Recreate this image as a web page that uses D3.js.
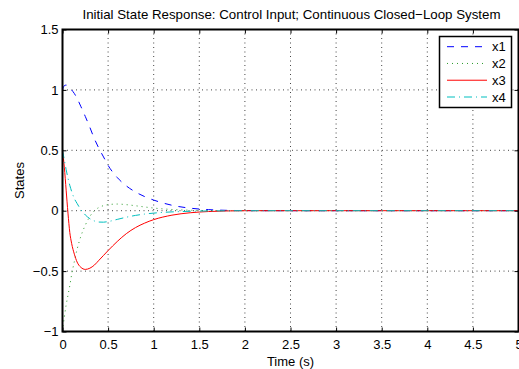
<!DOCTYPE html>
<html>
<head>
<meta charset="utf-8">
<script src="https://cdn.jsdelivr.net/npm/d3@7"></script>
<style>
  body { margin: 0; background: #fff; }
  svg { display: block; font-family: "Liberation Sans", Arial, sans-serif; }
</style>
</head>
<body>
<script>
// Datos (tiempo en segundos, estados)
const tiempo = [0, 0.02, 0.04, 0.06, 0.08, 0.1, 0.13, 0.16, 0.2, 0.25, 0.3, 0.35, 0.4, 0.45, 0.5,
  0.6, 0.7, 0.8, 0.9, 1.0, 1.2, 1.4, 1.6, 1.8, 2.0, 2.5, 3, 3.5, 4, 4.5, 5];
const x1 = [1.0, 1.035, 1.04, 1.03, 1.02, 1.0, 0.97, 0.93, 0.865, 0.78, 0.69, 0.595, 0.515, 0.445, 0.375,
  0.275, 0.205, 0.155, 0.117, 0.088, 0.045, 0.021, 0.009, 0.003, 0.001, 0, 0, 0, 0, 0, 0];
const x2 = [-1.0, -0.88, -0.78, -0.7, -0.62, -0.53, -0.42, -0.32, -0.215, -0.12, -0.048, 0.0, 0.027, 0.042, 0.05,
  0.055, 0.05, 0.041, 0.031, 0.022, 0.01, 0.004, 0.001, 0, 0, 0, 0, 0, 0, 0, 0];
const x3 = [0.5, 0.36, 0.17, -0.02, -0.18, -0.27, -0.36, -0.425, -0.468, -0.486, -0.476, -0.45, -0.41, -0.37, -0.33,
  -0.255, -0.19, -0.14, -0.103, -0.074, -0.037, -0.017, -0.007, -0.002, 0, 0, 0, 0, 0, 0, 0];
const x4 = [0.5, 0.42, 0.34, 0.27, 0.21, 0.16, 0.1, 0.06, 0.01, -0.035, -0.066, -0.085, -0.094, -0.095, -0.09,
  -0.072, -0.054, -0.039, -0.028, -0.02, -0.01, -0.005, -0.002, -0.001, 0, 0, 0, 0, 0, 0, 0];
const nombres = ["x1", "x2", "x3", "x4"];
const ticksX = [0, 0.5, 1, 1.5, 2, 2.5, 3, 3.5, 4, 4.5, 5];
const ticksY = [-1, -0.5, 0, 0.5, 1, 1.5];

const WIDTH = 519;
const HEIGHT = 369;
const MARGIN = { top: 29.5, bottom: 37.5, left: 62.5, right: 0.5 };

const series = [
  { nombre: nombres[0], valores: x1, color: "#0000ff", dash: "7,7" },
  { nombre: nombres[1], valores: x2, color: "#2a9a2a", dash: "1,4" },
  { nombre: nombres[2], valores: x3, color: "#ff0000", dash: null },
  { nombre: nombres[3], valores: x4, color: "#00bfbf", dash: "8,4,1,4" },
];

const svg = d3.select("body").append("svg")
  .attr("width", WIDTH)
  .attr("height", HEIGHT);

const escalaX = d3.scaleLinear().domain([0, 5]).range([MARGIN.left, WIDTH - MARGIN.right]);
const escalaY = d3.scaleLinear().domain([-1, 1.5]).range([HEIGHT - MARGIN.bottom, MARGIN.top]);

// Grilla punteada
const grilla = svg.append("g");
grilla.selectAll(".gx").data(ticksX.slice(1, -1)).join("line")
  .attr("x1", d => escalaX(d)).attr("x2", d => escalaX(d))
  .attr("y1", escalaY(-1)).attr("y2", escalaY(1.5));
grilla.selectAll(".gy").data(ticksY.slice(1, -1)).join("line")
  .attr("y1", d => escalaY(d)).attr("y2", d => escalaY(d))
  .attr("x1", escalaX(0)).attr("x2", escalaX(5));
grilla.selectAll("line")
  .attr("stroke", "#444")
  .attr("stroke-width", 1)
  .attr("stroke-dasharray", "1,3.5");

// Curvas
const linea = d3.line()
  .x((d, i) => escalaX(tiempo[i]))
  .y(d => escalaY(d))
  .curve(d3.curveMonotoneX);

svg.append("g").selectAll("path").data(series).join("path")
  .attr("d", d => linea(d.valores))
  .attr("fill", "none")
  .attr("stroke", d => d.color)
  .attr("stroke-width", 1)
  .attr("stroke-dasharray", d => d.dash);

// Ejes
const fmt = d3.format("~g");
const ejeIzq = svg.append("g").attr("transform", `translate(${escalaX(0)},0)`)
  .call(d3.axisLeft(escalaY).tickValues(ticksY).tickFormat(fmt).tickSizeInner(-4).tickSizeOuter(0).tickPadding(4));
const ejeAbajo = svg.append("g").attr("transform", `translate(0,${escalaY(-1)})`)
  .call(d3.axisBottom(escalaX).tickValues(ticksX).tickFormat(fmt).tickSizeInner(-4).tickSizeOuter(0).tickPadding(8));
const ejeArriba = svg.append("g").attr("transform", `translate(0,${escalaY(1.5)})`)
  .call(d3.axisTop(escalaX).tickValues(ticksX).tickFormat("").tickSizeInner(-4).tickSizeOuter(0));
const ejeDer = svg.append("g").attr("transform", `translate(${escalaX(5)},0)`)
  .call(d3.axisRight(escalaY).tickValues(ticksY).tickFormat("").tickSizeInner(-4).tickSizeOuter(0));

[ejeIzq, ejeAbajo, ejeArriba, ejeDer].forEach(e => {
  e.select(".domain").remove();
  e.selectAll("line").attr("stroke", "#000");
  e.selectAll("text").attr("font-size", 13).attr("fill", "#000")
    .attr("font-family", "'Liberation Sans', Arial, sans-serif");
});

// Caja
svg.append("rect")
  .attr("x", escalaX(0)).attr("y", escalaY(1.5))
  .attr("width", escalaX(5) - escalaX(0))
  .attr("height", escalaY(-1) - escalaY(1.5))
  .attr("fill", "none").attr("stroke", "#000").attr("stroke-width", 2);

// Textos
svg.append("text")
  .attr("x", (escalaX(0) + escalaX(5)) / 2 + 1).attr("y", 19)
  .attr("text-anchor", "middle").attr("font-size", 13.3)
  .text("Initial State Response: Control Input; Continuous Closed\u2212Loop System");

svg.append("text")
  .attr("x", (escalaX(0) + escalaX(5)) / 2).attr("y", 366)
  .attr("text-anchor", "middle").attr("font-size", 13)
  .text("Time (s)");

svg.append("text")
  .attr("transform", `translate(24,${(escalaY(-1) + escalaY(1.5)) / 2}) rotate(-90)`)
  .attr("text-anchor", "middle").attr("font-size", 13)
  .text("States");

// Leyenda
const leyenda = svg.append("g");
leyenda.append("rect")
  .attr("x", 439.5).attr("y", 36.5).attr("width", 72).attr("height", 71)
  .attr("fill", "#fff").attr("stroke", "#000").attr("stroke-width", 1.5);
const escalaLeyenda = d3.scalePoint().domain(nombres).range([46.7, 97]);
const item = leyenda.selectAll(".item").data(series).join("g")
  .attr("transform", d => `translate(0,${escalaLeyenda(d.nombre)})`);
item.append("line")
  .attr("x1", 447).attr("x2", 487).attr("y1", 0).attr("y2", 0)
  .attr("stroke", d => d.color).attr("stroke-width", 1)
  .attr("stroke-dasharray", d => d.dash);
item.append("text")
  .attr("x", 492).attr("y", 0).attr("dy", "0.35em")
  .attr("font-size", 13)
  .text(d => d.nombre);
</script>
</body>
</html>
